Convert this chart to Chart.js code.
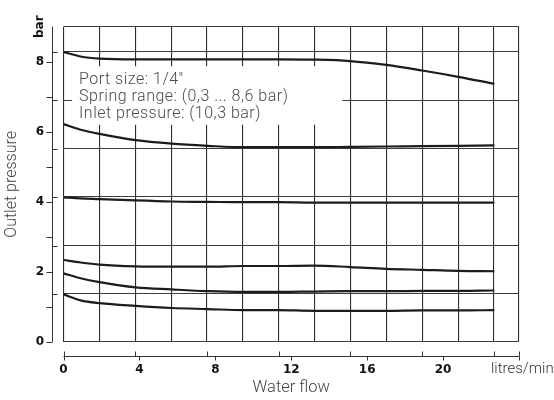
<!DOCTYPE html>
<html>
<head>
<meta charset="utf-8">
<script src="https://cdn.jsdelivr.net/npm/chart.js@4.4.1/dist/chart.umd.min.js"></script>
<style>
  html, body { margin:0; padding:0; background:#fff; }
  #wrap { width:554px; height:400px; position:relative; }
</style>
</head>
<body>
<div id="wrap"><canvas id="prChart"></canvas></div>
<script>
// water flow (litres/min) where the curves were read
const flow = [0, 0.9, 1.9, 3.8, 5.7, 7.6, 9.5, 11.3, 13.2, 15.1, 17, 18.9, 20.8, 22.7];

// outlet pressure (bar), one curve per spring setting
const set83 = [8.28, 8.15, 8.09, 8.07, 8.07, 8.07, 8.07, 8.07, 8.06, 8.02, 7.91, 7.75, 7.57, 7.37];
const set62 = [6.22, 6.06, 5.94, 5.76, 5.66, 5.60, 5.56, 5.56, 5.56, 5.57, 5.58, 5.59, 5.60, 5.61];
const set41 = [4.13, 4.10, 4.08, 4.04, 4.01, 4.00, 3.99, 3.99, 3.98, 3.98, 3.98, 3.98, 3.98, 3.98];
const set23 = [2.34, 2.27, 2.21, 2.16, 2.15, 2.15, 2.17, 2.17, 2.18, 2.14, 2.09, 2.06, 2.03, 2.02];
const set20 = [1.96, 1.82, 1.71, 1.56, 1.50, 1.45, 1.43, 1.43, 1.44, 1.45, 1.45, 1.46, 1.46, 1.47];
const set14 = [1.36, 1.19, 1.11, 1.03, 0.97, 0.94, 0.91, 0.91, 0.89, 0.89, 0.89, 0.90, 0.90, 0.91];

// axis ticks
const flowTicks = [0, 4, 8, 12, 16, 20, 24];
const flowUnit = 'litres/min';
const pressTicks = [0, 2, 4, 6, 8];
const pressUnit = 'bar';

const noteLines = ['Port size: 1/4"', 'Spring range: (0,3 ... 8,6 bar)', 'Inlet pressure: (10,3 bar)'];

// background grid of the drawing does not follow the ticks
const gridStepX = 1.89, gridStepY = 1.384, gridBaseY = 1.37;
const gridX = [];
for (let i = 0; i <= 12; i++) gridX.push(+(i * gridStepX).toFixed(3));
gridX.push(24);
const gridY = [0];
for (let i = 0; i < 6; i++) gridY.push(+(gridBaseY + i * gridStepY).toFixed(3));
gridY.push(9);

const curves = [set83, set62, set41, set23, set20, set14];

const lightFont = 'Roboto';
const boldFont = 'DejaVu Sans';

// offset axes, unit labels and the note box
const extras = {
  id: 'extras',
  beforeDatasetsDraw(chart) {
    const {ctx, scales} = chart;
    const x = scales.x, y = scales.y;
    ctx.save();
    // note box hides the grid
    const bx0 = x.getPixelForValue(0.45), bx1 = x.getPixelForValue(14.7);
    const by0 = y.getPixelForValue(7.87), by1 = y.getPixelForValue(6.2);
    ctx.fillStyle = '#fff';
    ctx.fillRect(bx0, by0, bx1 - bx0, by1 - by0);
    ctx.fillStyle = '#4a4a4a';
    ctx.font = '300 16px ' + lightFont;
    if ('letterSpacing' in ctx) ctx.letterSpacing = '0.5px';
    ctx.textBaseline = 'alphabetic';
    ctx.textAlign = 'left';
    const tx = x.getPixelForValue(0.82);
    [7.37, 6.88, 6.39].forEach((v, i) => ctx.fillText(noteLines[i], tx, y.getPixelForValue(v)));
    ctx.restore();
  },
  afterDraw(chart) {
    const {ctx, chartArea: a, scales} = chart;
    const x = scales.x, y = scales.y;
    ctx.save();
    ctx.strokeStyle = '#333';
    ctx.lineWidth = 1;
    // left axis
    const ax = Math.round(a.left - 11.5) + 0.5;
    const y0 = y.getPixelForValue(0);
    ctx.beginPath();
    ctx.moveTo(ax, a.top);
    ctx.lineTo(ax, y0);
    for (let v = 0; v <= 8; v++) {
      const p = Math.round(y.getPixelForValue(v)) + 0.5;
      ctx.moveTo(ax - 6, p); ctx.lineTo(ax, p);
    }
    gridY.slice(1, -1).forEach(v => {
      const p = Math.round(y.getPixelForValue(v)) + 0.5;
      ctx.moveTo(ax, p); ctx.lineTo(ax + 5, p);
    });
    // bottom axis
    const ay = Math.round(a.bottom + 14) + 0.5;
    ctx.moveTo(x.getPixelForValue(0), ay);
    ctx.lineTo(x.getPixelForValue(24), ay);
    flowTicks.forEach(v => {
      const p = Math.round(x.getPixelForValue(v)) + 0.5;
      ctx.moveTo(p, ay); ctx.lineTo(p, ay + 4);
    });
    gridX.forEach((v, i) => {
      if (i % 2 !== 0 && v !== 24) return;
      const p = Math.round(x.getPixelForValue(v)) + 0.5;
      ctx.moveTo(p, ay - 5); ctx.lineTo(p, ay);
    });
    ctx.stroke();
    // flow unit at the end of the axis
    ctx.fillStyle = '#333';
    ctx.font = '300 15px ' + lightFont;
    ctx.textAlign = 'left';
    ctx.textBaseline = 'middle';
    ctx.fillText(flowUnit, x.getPixelForValue(24) - 28, ay + 13);
    // unit on the pressure axis
    ctx.fillStyle = '#111';
    ctx.font = 'bold 12px ' + boldFont;
    ctx.textAlign = 'center';
    ctx.translate(a.left - 24, a.top);
    ctx.rotate(-Math.PI / 2);
    ctx.fillText(pressUnit, 0, 0);
    ctx.restore();
  }
};

new Chart(document.getElementById('prChart'), {
  type: 'line',
  data: {
    datasets: curves.map(s => ({
      data: s.map((v, i) => ({x: flow[i], y: v})),
      borderColor: '#1c1c1c',
      borderWidth: 2.2,
      pointRadius: 0,
      fill: false,
      cubicInterpolationMode: 'monotone'
    }))
  },
  options: {
    animation: false,
    responsive: true,
    maintainAspectRatio: false,
    layout: { padding: { top: 17, right: 35, left: 0, bottom: 0 } },
    plugins: { legend: { display: false }, tooltip: { enabled: false } },
    scales: {
      x: {
        type: 'linear', position: 'bottom', min: 0, max: 24,
        afterFit: s => { s.height = 58; },
        afterBuildTicks: s => { s.ticks = flowTicks.map(v => ({value: v})); },
        grid: { display: false, drawTicks: false },
        border: { display: false },
        ticks: {
          padding: 20.5,
          autoSkip: false,
          maxRotation: 0,
          color: '#111',
          font: { family: boldFont, weight: 'bold', size: 12 },
          callback: v => v === 24 ? '' : String(v)
        },
        title: {
          display: true, text: 'Water flow', color: '#444',
          font: { family: lightFont, weight: '300', size: 16.5 },
          padding: { top: 0, bottom: 2 }
        }
      },
      y: {
        type: 'linear', position: 'left', min: 0, max: 9,
        afterFit: s => { s.width = 63.5; },
        afterBuildTicks: s => { s.ticks = pressTicks.map(v => ({value: v})); },
        grid: { display: false, drawTicks: false },
        border: { display: false },
        ticks: {
          padding: 19.5,
          color: '#111',
          font: { family: boldFont, weight: 'bold', size: 12 }
        },
        title: {
          display: true, text: 'Outlet pressure', color: '#444',
          font: { family: lightFont, weight: '300', size: 16 },
          padding: { top: 2, bottom: 0 }
        }
      },
      xg: {
        type: 'linear', position: 'top', min: 0, max: 24,
        afterFit: s => { s.height = 0; },
        afterBuildTicks: s => { s.ticks = gridX.map(v => ({value: v})); },
        grid: { color: '#2e2e2e', lineWidth: 1.1, drawTicks: false },
        border: { display: false },
        ticks: { display: false }
      },
      yg: {
        type: 'linear', position: 'right', min: 0, max: 9,
        afterFit: s => { s.width = 0; },
        afterBuildTicks: s => { s.ticks = gridY.map(v => ({value: v})); },
        grid: { color: '#3c3c3c', lineWidth: 1.1, drawTicks: false },
        border: { display: false },
        ticks: { display: false }
      }
    }
  },
  plugins: [extras]
});
</script>
</body>
</html>
